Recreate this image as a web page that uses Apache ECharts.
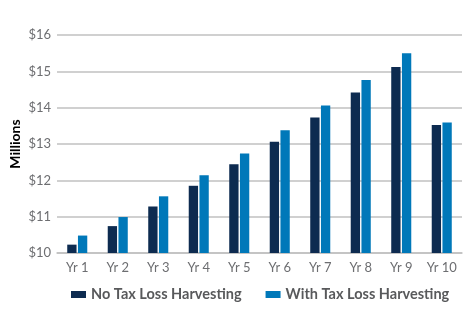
<!DOCTYPE html>
<html><head><meta charset="utf-8">
<script src="https://cdn.jsdelivr.net/npm/echarts@6/dist/echarts.min.js"></script>
<style>html,body{margin:0;padding:0;background:#fff}#c{width:474px;height:326px}</style>
</head><body><div id="c"></div>
<script>
var categories = ['Yr 1','Yr 2','Yr 3','Yr 4','Yr 5','Yr 6','Yr 7','Yr 8','Yr 9','Yr 10'];
var noTLH = [10.23, 10.74, 11.28, 11.85, 12.44, 13.06, 13.73, 14.42, 15.12, 13.52];
var withTLH = [10.48, 10.99, 11.56, 12.14, 12.74, 13.38, 14.06, 14.76, 15.50, 13.59];
var seriesNames = ['No Tax Loss Harvesting', 'With Tax Loss Harvesting'];
var yMin = 10, yMax = 16, yStep = 1;

var chart = echarts.init(document.getElementById('c'));
var font = 'Lato';
chart.setOption({
  animation: false,
  grid: {left: 57, right: 12, top: 35, bottom: 73},
  legend: {
    top: 287, left: 71, padding: 0, itemWidth: 15, itemHeight: 7, itemGap: 24,
    icon: 'rect',
    textStyle: {fontFamily: font, fontSize: 14.5, fontWeight: 'bold', color: '#58595b'},
    data: seriesNames
  },
  xAxis: {
    type: 'category', data: categories,
    axisLine: {show: true, lineStyle: {color: '#c0c0c0', width: 1.5}},
    axisTick: {show: false},
    axisLabel: {fontFamily: font, fontSize: 13, color: '#6d6e71', margin: 8, interval: 0}
  },
  yAxis: {
    type: 'value', min: yMin, max: yMax, interval: yStep,
    name: 'Millions', nameLocation: 'middle', nameGap: 35, nameMoveOverlap: false,
    nameTextStyle: {fontFamily: font, fontSize: 14, fontWeight: 'bold', color: '#000'},
    axisLine: {show: false}, axisTick: {show: false},
    axisLabel: {fontFamily: font, fontSize: 13, color: '#6d6e71', margin: 6,
      formatter: function (v) { return '$' + v; }},
    splitLine: {lineStyle: {color: '#c0c0c0', width: 1.5}}
  },
  series: [
    {name: seriesNames[0], type: 'bar', data: noTLH, barWidth: '23%', barGap: '15%',
     itemStyle: {color: '#0d2b50'}},
    {name: seriesNames[1], type: 'bar', data: withTLH, barWidth: '23%',
     itemStyle: {color: '#0078b9'}}
  ]
});
</script></body></html>
